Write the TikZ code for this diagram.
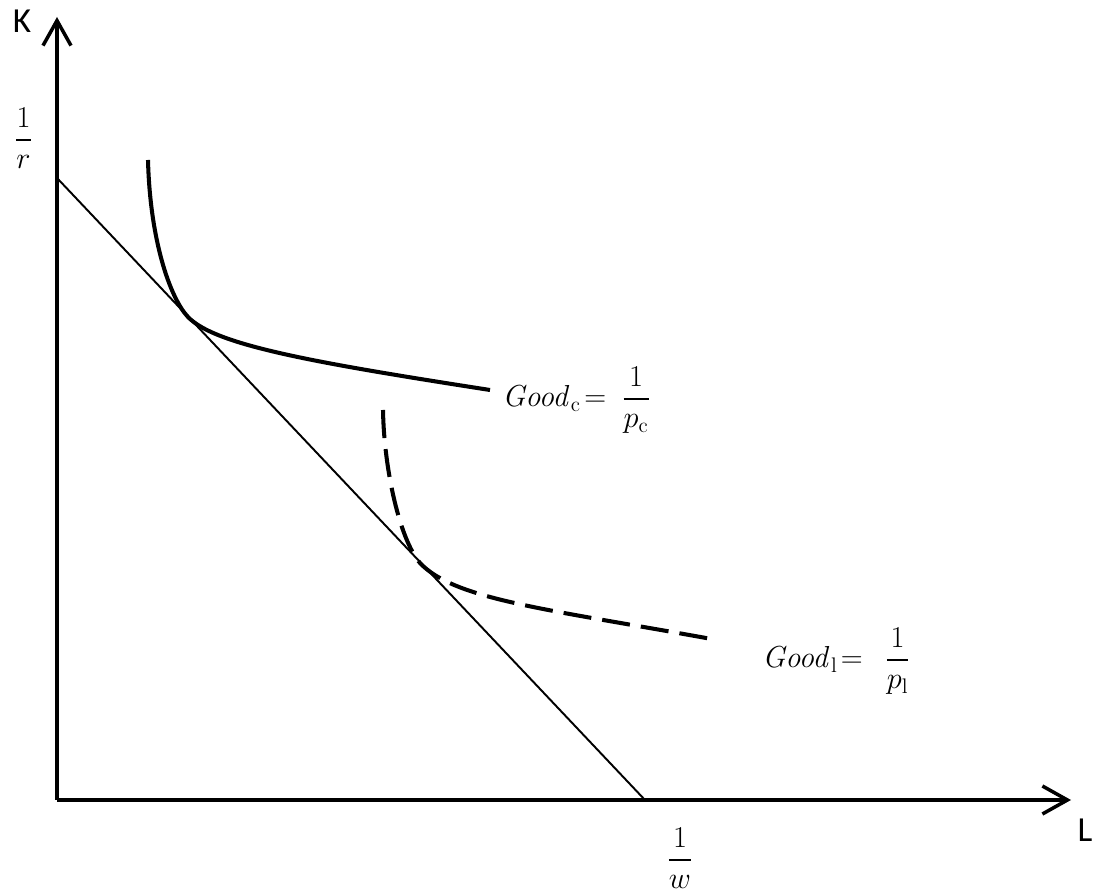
\documentclass[tikz,border=0pt]{standalone}
\usepackage{amsmath}
\usepackage[no-math]{fontspec}
\setmainfont{Carlito}
\usetikzlibrary{arrows.meta}

\begin{document}
\begin{tikzpicture}[every node/.style={inner sep=0pt, font=\fontsize{20}{24}\selectfont},
	axis/.style={line width=2pt, -{Straight Barb[length=0.5cm, width=0.56cm, line width=2pt]}},
	budget/.style={line width=1.1pt},
	isoquant/.style={line width=2.3pt},
	mathlab/.style={font=\fontsize{17}{20}\selectfont}]
				\useasboundingbox (0,0) rectangle (21.94,17.9);
				\coordinate (O) at (1.14,1.9);
				\coordinate (Ktop) at (1.14,17.56);
				\coordinate (Lend) at (21.42,1.9);
				\coordinate (rint) at (1.14,14.34);
				\coordinate (wint) at (12.9,1.9);
				\draw[axis] (O) -- (Ktop);
				\draw[axis] (O) -- (Lend);
				\draw[budget] (rint) -- (wint);
				% solid isoquant
				\coordinate (c1) at (2.96,14.7);
				\coordinate (c2) at (3.76,11.56);
				\coordinate (c3) at (9.8,10.1);
				\draw[isoquant] (c1) .. controls (3.0,13.1) and (3.4,11.94) .. (c2)
					.. controls (4.3,11.0) and (6.2,10.66) .. (c3);
				% dashed isoquant
				\coordinate (d1) at (7.66,9.7);
				\coordinate (d2) at (8.4,6.64);
				\coordinate (d3) at (14.34,5.1);
				\draw[isoquant, dash pattern=on 16pt off 6.3pt] (d1) .. controls (7.68,8.5) and (8.0,7.1) .. (d2)
					.. controls (9.1,5.9) and (10.94,5.72) .. (d3);
				\node (K) at (0.44,17.48) {K};
				\node (L) at (21.7,1.3) {L};
				\node[mathlab] (r) at (0.47,15.14) {$\dfrac{1}{r}$};
				\node[mathlab] (w) at (13.6,0.74) {$\dfrac{1}{w}$};
				\node[mathlab, anchor=west] (goodc) at (10.04,9.9) {$\mathit{Good}_{\mathrm{c}}\!=\ \dfrac{1}{p_{\mathrm{c}}}$};
				\node[mathlab, anchor=west] (goodl) at (15.24,4.68) {$\mathit{Good}_{\mathrm{l}}\!=\ \ \dfrac{1}{p_{\mathrm{l}}}$};
\end{tikzpicture}
\end{document}
